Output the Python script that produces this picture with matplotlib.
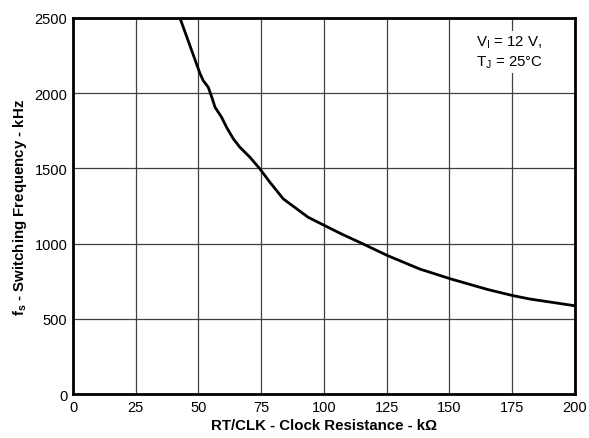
import matplotlib
matplotlib.use("Agg")
import matplotlib.pyplot as plt

plt.rcParams["font.family"] = ["Liberation Sans", "DejaVu Sans"]
plt.rcParams["mathtext.default"] = "regular"

# RT/CLK resistance (kOhm) vs switching frequency (kHz)
resistance = [42.6, 50.6, 51.9, 53.9, 55.3, 56.6, 59.2, 61.2, 63.9, 66.5, 70.5,
              74.5, 78.5, 83.8, 93.7, 100.4, 107.0, 115.7, 125.4, 138.2, 150.6,
              165.5, 175.4, 182.0, 200.0]
frequency = [2500, 2130, 2083, 2039, 1973, 1906, 1840, 1773, 1696, 1640, 1574,
             1496, 1407, 1297, 1175, 1119, 1064, 997, 920, 831, 765,
             694, 654, 632, 587]

x_ticks = [0, 25, 50, 75, 100, 125, 150, 175, 200]
y_ticks = [0, 500, 1000, 1500, 2000, 2500]

fig = plt.figure(figsize=(5.89, 4.39), dpi=100)
ax = fig.add_axes([0.124, 0.100, 0.852, 0.857])

ax.plot(resistance, frequency, color="black", linewidth=2.0, zorder=3)

ax.set_xlim(0, 200)
ax.set_ylim(0, 2500)
ax.set_xticks(x_ticks)
ax.set_yticks(y_ticks)
ax.tick_params(length=0, labelsize=10.5, pad=4)
ax.grid(True, color="#404040", linewidth=0.9)
for spine in ax.spines.values():
    spine.set_linewidth(2.0)

ax.set_xlabel("RT/CLK - Clock Resistance - k\u03a9", fontsize=10.8, fontweight="bold", labelpad=3)
ax.set_ylabel("f$_s$ - Switching Frequency - kHz", fontsize=10.8, fontweight="bold", labelpad=4)

ax.text(0.803, 0.957, "V$_I$ = 12 V,\nT$_J$ = 25\u00b0C", transform=ax.transAxes,
        ha="left", va="top", fontsize=10.8, linespacing=1.3,
        bbox=dict(facecolor="white", edgecolor="none", pad=2), zorder=4)

fig.savefig("out.png", dpi=100)
